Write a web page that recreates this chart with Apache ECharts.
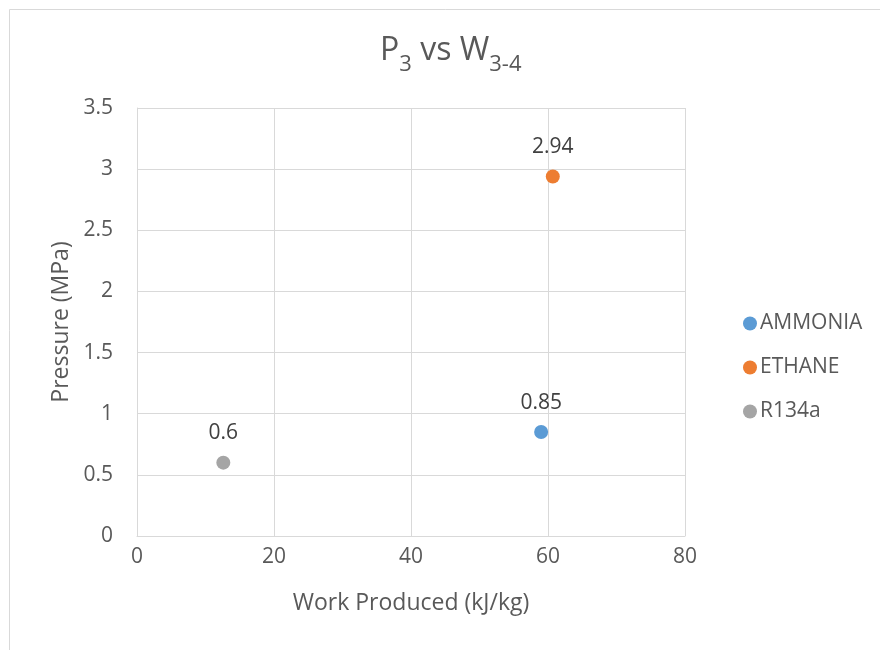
<!DOCTYPE html>
<html>
<head>
<meta charset="utf-8">
<script src="https://cdn.jsdelivr.net/npm/echarts@6/dist/echarts.min.js"></script>
<style>
  html, body { margin: 0; padding: 0; background: #fff; }
  #chart { width: 880px; height: 650px; }
</style>
</head>
<body>
<div id="chart"></div>
<script>
// Refrigerants: work produced (kJ/kg) vs. pressure P3 (MPa)
const seriesNames = ['AMMONIA', 'ETHANE', 'R134a'];
const workProduced = [59, 60.7, 12.6];
const pressure = [0.85, 2.94, 0.6];
const colors = ['#5B9BD5', '#ED7D31', '#A5A5A5'];
const xTicks = [0, 20, 40, 60, 80];
const yTicks = [0, 0.5, 1, 1.5, 2, 2.5, 3, 3.5];

const font = '"Open Sans", "Noto Sans", sans-serif';
const chart = echarts.init(document.getElementById('chart'));

chart.setOption({
  animation: false,
  backgroundColor: '#fff',
  graphic: [{
    type: 'rect',
    shape: { x: 9.5, y: 9.5, width: 900, height: 700 },
    style: { fill: 'none', stroke: '#D9D9D9', lineWidth: 1 },
    silent: true
  }],
  title: {
    text: '{m|P}{s|3}{m| vs W}{s|3-4}',
    left: 375,
    top: 30,
    textStyle: {
      fontWeight: 'normal',
      rich: {
        m: { fontFamily: font, fontSize: 32, fontWeight: 'normal', color: '#595959', verticalAlign: 'bottom' },
        s: { fontFamily: font, fontSize: 22, fontWeight: 'normal', color: '#595959', verticalAlign: 'bottom', padding: [0, 0, -9, 0] }
      }
    }
  },
  legend: {
    orient: 'vertical',
    left: 738,
    top: 308,
    itemGap: 23,
    itemWidth: 14,
    itemHeight: 24,
    icon: 'circle',
    data: seriesNames,
    textStyle: { fontFamily: font, fontSize: 21, color: '#595959', padding: [0, 0, 0, -2] }
  },
  grid: { left: 137, right: 195, top: 108, bottom: 114 },
  xAxis: {
    type: 'value',
    min: xTicks[0],
    max: xTicks[xTicks.length - 1],
    interval: xTicks[1] - xTicks[0],
    name: 'Work Produced (kJ/kg)',
    nameLocation: 'middle',
    nameGap: 56,
    nameTextStyle: { fontFamily: font, fontSize: 23, color: '#595959' },
    axisLine: { show: true, lineStyle: { color: '#D9D9D9' } },
    axisTick: { show: false },
    axisLabel: { fontFamily: font, fontSize: 21, color: '#595959', margin: 11 },
    splitLine: { show: true, lineStyle: { color: '#D9D9D9', width: 1 } }
  },
  yAxis: {
    type: 'value',
    min: yTicks[0],
    max: yTicks[yTicks.length - 1],
    interval: yTicks[1] - yTicks[0],
    name: 'Pressure (MPa)',
    nameLocation: 'middle',
    nameGap: 62,
    nameTextStyle: { fontFamily: font, fontSize: 23, color: '#595959' },
    axisLine: { show: true, lineStyle: { color: '#D9D9D9' } },
    axisTick: { show: false },
    axisLabel: { fontFamily: font, fontSize: 21, color: '#595959', margin: 24 },
    splitLine: { show: true, lineStyle: { color: '#D9D9D9', width: 1 } }
  },
  series: seriesNames.map((name, i) => ({
    name: name,
    type: 'scatter',
    symbol: 'circle',
    symbolSize: 14,
    itemStyle: { color: colors[i], opacity: 1 },
    data: [[workProduced[i], pressure[i]]],
    label: {
      show: true,
      position: 'top',
      distance: 12,
      fontFamily: font,
      fontSize: 21,
      color: '#404040',
      formatter: p => String(p.value[1])
    }
  }))
});
</script>
</body>
</html>
